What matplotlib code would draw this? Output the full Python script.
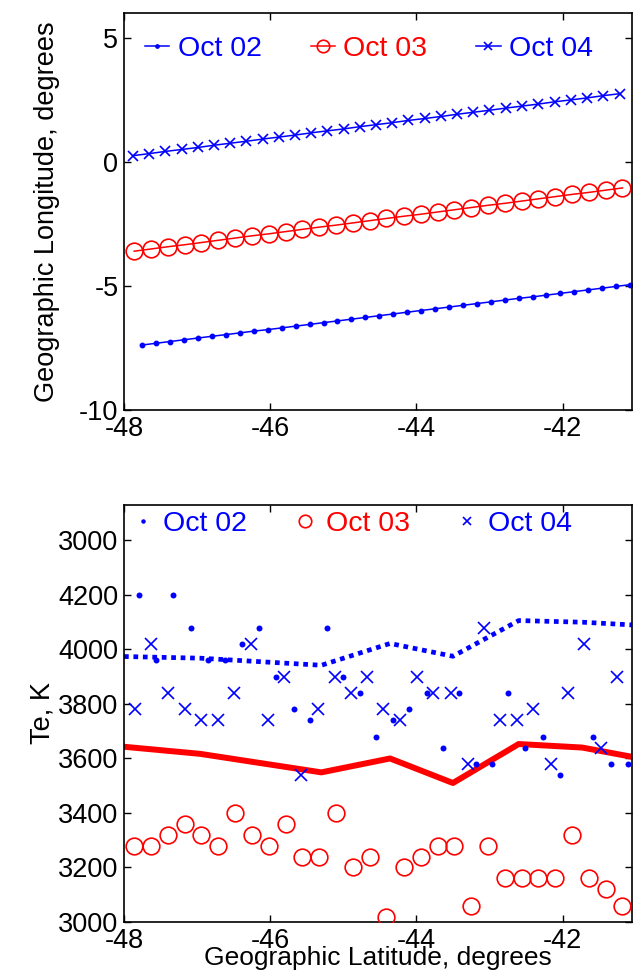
import numpy as np
from matplotlib import pyplot

pyplot.rcParams['font.family'] = ['Liberation Sans', 'DejaVu Sans']
pyplot.rcParams['axes.unicode_minus'] = False

# ---- top panel: track positions (lat, lon) for each day ----
lat_oct02 = [-47.75, -47.56, -47.37, -47.18, -46.99, -46.80, -46.60, -46.41, -46.22, -46.03,
             -45.84, -45.65, -45.46, -45.27, -45.08, -44.89, -44.70, -44.51, -44.32, -44.13,
             -43.94, -43.74, -43.55, -43.36, -43.17, -42.98, -42.79, -42.60, -42.41, -42.22,
             -42.03, -41.84, -41.65, -41.46, -41.27, -41.08]
lon_oct02 = [-7.38, -7.31, -7.24, -7.17, -7.10, -7.03, -6.96, -6.89, -6.82, -6.76,
             -6.69, -6.62, -6.55, -6.48, -6.41, -6.34, -6.27, -6.20, -6.13, -6.06,
             -5.99, -5.92, -5.85, -5.78, -5.71, -5.64, -5.57, -5.50, -5.44, -5.37,
             -5.30, -5.23, -5.16, -5.09, -5.02, -4.95]

lat_oct03 = [-47.86, -47.63, -47.40, -47.17, -46.94, -46.71, -46.48, -46.25, -46.02, -45.79,
             -45.56, -45.33, -45.10, -44.87, -44.64, -44.41, -44.17, -43.94, -43.71, -43.48,
             -43.25, -43.02, -42.79, -42.56, -42.33, -42.10, -41.87, -41.64, -41.41, -41.18]
lon_oct03 = [-3.60, -3.51, -3.42, -3.34, -3.25, -3.16, -3.07, -2.98, -2.90, -2.81,
             -2.72, -2.63, -2.55, -2.46, -2.37, -2.28, -2.19, -2.11, -2.02, -1.93,
             -1.84, -1.75, -1.67, -1.58, -1.49, -1.40, -1.31, -1.23, -1.14, -1.05]

lat_oct04 = [-47.88, -47.66, -47.44, -47.21, -46.99, -46.77, -46.55, -46.33, -46.10, -45.88,
             -45.66, -45.44, -45.22, -44.99, -44.77, -44.55, -44.33, -44.11, -43.88, -43.66,
             -43.44, -43.22, -43.00, -42.77, -42.55, -42.33, -42.11, -41.88, -41.66, -41.44,
             -41.21]
lon_oct04 = [0.25, 0.33, 0.42, 0.50, 0.58, 0.67, 0.75, 0.83, 0.92, 1.00,
             1.08, 1.17, 1.25, 1.33, 1.42, 1.50, 1.58, 1.67, 1.75, 1.83,
             1.92, 2.00, 2.08, 2.17, 2.25, 2.33, 2.42, 2.50, 2.58, 2.67,
             2.75]

# ---- bottom panel: electron temperature ----
te_lat_oct02 = [-47.79, -47.56, -47.33, -47.08, -46.85, -46.62, -46.38, -46.15, -45.92, -45.68,
                -45.45, -45.22, -45.00, -44.77, -44.55, -44.32, -44.10, -43.86, -43.63, -43.41,
                -43.18, -42.96, -42.74, -42.52, -42.27, -42.04, -41.58, -41.34, -41.11]
te_oct02 = [4200, 3960, 4200, 4080, 3960, 3960, 4020, 4080, 3900, 3780,
            3740, 4080, 3900, 3840, 3680, 3740, 3780, 3840, 3640, 3840,
            3580, 3580, 3840, 3640, 3680, 3540, 3680, 3580, 3580]

te_oct03 = [3280, 3280, 3320, 3360, 3320, 3280, 3400, 3320, 3280, 3360,
            3240, 3240, 3400, 3200, 3240, 3020, 3200, 3240, 3280, 3280,
            3060, 3280, 3160, 3160, 3160, 3160, 3320, 3160, 3120, 3060]

te_lat_oct04 = [-47.85, -47.63, -47.40, -47.16, -46.95, -46.71, -46.49, -46.26, -46.03, -45.81,
                -45.58, -45.34, -45.12, -44.89, -44.67, -44.45, -44.22, -43.99, -43.77, -43.53,
                -43.30, -43.08, -42.85, -42.62, -42.40, -42.16, -41.93, -41.71, -41.48, -41.25]
te_oct04 = [3780, 4020, 3840, 3780, 3740, 3740, 3840, 4020, 3740, 3900,
            3540, 3780, 3900, 3840, 3900, 3780, 3740, 3900, 3840, 3840,
            3580, 4080, 3740, 3740, 3780, 3580, 3840, 4020, 3640, 3900]

# smoothed curves
curve_lat = [-48.0, -46.96, -45.30, -44.36, -43.50, -42.60, -41.73, -41.05]
curve_blue = [3974, 3968, 3942, 4022, 3975, 4106, 4100, 4090]
curve_red = [3643, 3617, 3549, 3600, 3510, 3653, 3640, 3606]

BLUE = '#0000ff'
RED = '#ff0000'
TICK_FS = 19.5
LABEL_FS = 19.5
LEG_FS = 20.5


def style_axis(ax):
    ax.tick_params(direction='in', top=True, right=True, length=5, width=1,
                   labelsize=TICK_FS, pad=4)
    for s in ax.spines.values():
        s.set_linewidth(1.2)


fig = pyplot.figure(figsize=(6.33, 9.74), dpi=100)

ax1 = fig.add_axes([124 / 633, 1 - 410 / 974, 508 / 633, 397 / 974])
ax1.plot(lat_oct02, lon_oct02, '-', color=BLUE, lw=1.1, marker='o', ms=3.2, mec=BLUE,
         label='Oct 02')
ax1.plot(lat_oct03, lon_oct03, '-', color=RED, lw=1.1, marker='o', ms=12, mfc='none', mew=1.2,
         label='Oct 03')
ax1.plot(lat_oct04, lon_oct04, '-', color=BLUE, lw=1.1, marker='x', ms=7.5, mew=1.2,
         label='Oct 04')
ax1.set_xlim(-48, -41.05)
ax1.set_ylim(-10, 6)
ax1.set_xticks([-48, -46, -44, -42])
ax1.set_yticks([-10, -5, 0, 5])
ax1.set_ylabel('Geographic Longitude, degrees', fontsize=LABEL_FS)
ax1.yaxis.set_label_coords(-0.125, 0.5)
style_axis(ax1)
leg1 = ax1.legend(loc='center left', bbox_to_anchor=((145 - 124) / 508, 1 - (49 - 13) / 397),
                  ncol=3, frameon=False, fontsize=LEG_FS, handlelength=0.85,
                  handletextpad=0.3, columnspacing=1.72, borderaxespad=0, borderpad=0,
                  markerscale=0.75)
for t, c in zip(leg1.get_texts(), [BLUE, RED, BLUE]):
    t.set_color(c)

ax2 = fig.add_axes([124 / 633, 1 - 922 / 974, 508 / 633, 417 / 974])
ax2.plot(curve_lat, curve_blue, color=BLUE, lw=3.4, linestyle=(0, (1, 1)), zorder=2)
ax2.plot(curve_lat, curve_red, color=RED, lw=4.3, zorder=2)
ax2.plot(te_lat_oct02, te_oct02, 'o', color=BLUE, ms=4.3, mew=0, label='Oct 02', zorder=3)
ax2.plot(lat_oct03, te_oct03, 'o', color=RED, ms=12, mfc='none', mew=1.2, label='Oct 03',
         zorder=3)
ax2.plot(te_lat_oct04, te_oct04, 'x', color=BLUE, ms=8, mew=1.2, label='Oct 04', zorder=3)
ax2.set_xlim(-48, -41.05)
ax2.set_ylim(3000, 4530)
ax2.set_xticks([-48, -46, -44, -42])
ax2.set_yticks([3000, 3200, 3400, 3600, 3800, 4000, 4200, 4400])
ax2.set_yticklabels(['3000', '3200', '3400', '3600', '3800', '4000', '4200', '3000'])
ax2.set_xlabel('Geographic Latitude, degrees', fontsize=19)
ax2.xaxis.set_label_coords(0.5, -0.058)
ax2.set_ylabel('Te, K', fontsize=LABEL_FS)
ax2.yaxis.set_label_coords(-0.135, 0.5)
style_axis(ax2)
leg2 = ax2.legend(loc='center left', bbox_to_anchor=((134 - 124) / 508, 1 - (524 - 505) / 417),
                  ncol=3, frameon=False, fontsize=LEG_FS, handlelength=0.6,
                  handletextpad=0.43, columnspacing=1.72, borderaxespad=0, borderpad=0,
                  markerscale=0.75)
for t, c in zip(leg2.get_texts(), [BLUE, RED, BLUE]):
    t.set_color(c)

fig.savefig('out.png', dpi=100)
